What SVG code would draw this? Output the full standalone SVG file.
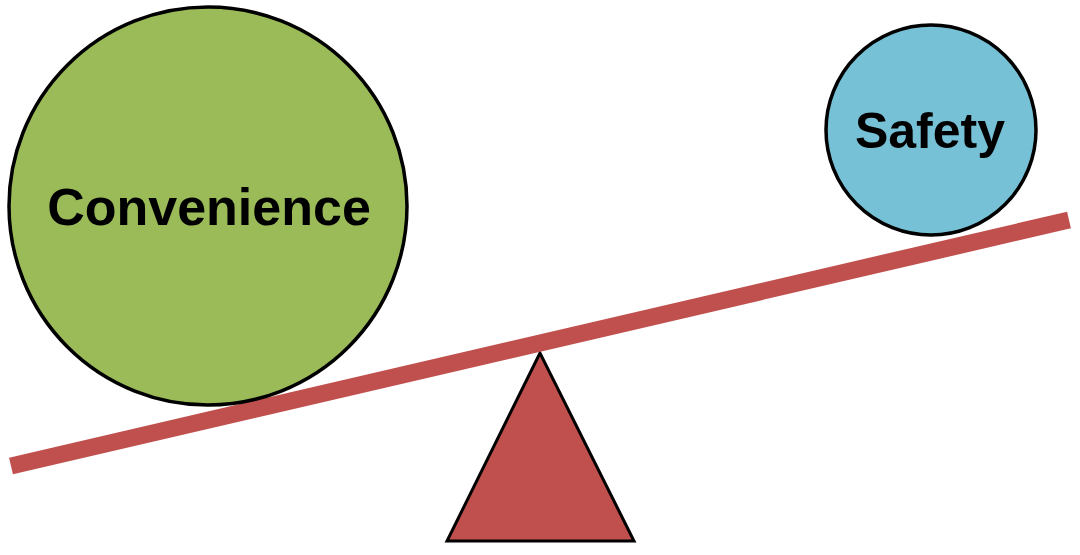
<svg xmlns="http://www.w3.org/2000/svg" width="1080" height="555" viewBox="0 0 1080 555">
  <style>
    .ball { stroke: #000; stroke-width: 3.5; }
    .label { font-family: "Liberation Sans", Arial, sans-serif; font-weight: bold; fill: #000; text-anchor: middle; }
  </style>
  <rect width="1080" height="555" fill="#fff"/>
  <g id="fulcrum">
    <polygon points="540,353 447,541 634,541" fill="#C0504D" stroke="#000" stroke-width="3" stroke-linejoin="miter"/>
  </g>
  <g id="beam">
    <line x1="11" y1="466" x2="1069" y2="220" stroke="#C0504D" stroke-width="17" stroke-linecap="butt"/>
  </g>
  <g id="convenience">
    <circle class="ball" cx="208" cy="206" r="199" fill="#9BBB59"/>
    <text class="label" x="209" y="225" font-size="52">Convenience</text>
  </g>
  <g id="safety">
    <circle class="ball" cx="931" cy="130" r="105" fill="#77C1D6"/>
    <text class="label" x="930" y="148" font-size="50">Safety</text>
  </g>
</svg>
